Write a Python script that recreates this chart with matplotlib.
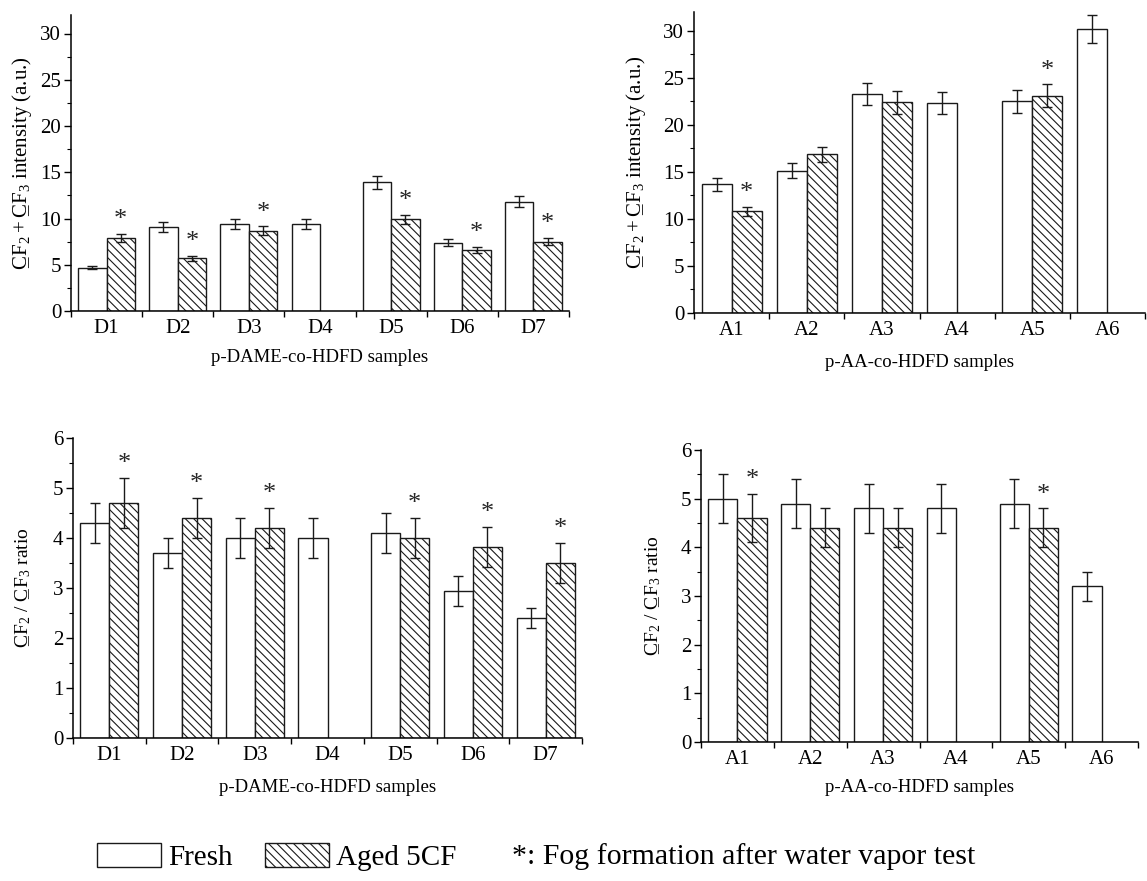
import numpy as np
import matplotlib
matplotlib.use('Agg')
import matplotlib.pyplot as plt
from matplotlib.patches import Patch
from matplotlib.ticker import MultipleLocator, FixedLocator

plt.rcParams['font.family'] = ['Liberation Serif', 'DejaVu Serif']
plt.rcParams['mathtext.fontset'] = 'custom'
plt.rcParams['mathtext.rm'] = 'Liberation Serif'
plt.rcParams['mathtext.it'] = 'Liberation Serif:italic'
plt.rcParams['hatch.linewidth'] = 0.8

nan = np.nan

d_labels = ['D1', 'D2', 'D3', 'D4', 'D5', 'D6', 'D7']
a_labels = ['A1', 'A2', 'A3', 'A4', 'A5', 'A6']

# CF2 + CF3 intensity (a.u.)
d_int_fresh = [4.7, 9.1, 9.4, 9.4, 13.9, 7.4, 11.8]
d_int_fresh_err = [0.2, 0.55, 0.55, 0.55, 0.7, 0.35, 0.6]
d_int_aged = [7.9, 5.7, 8.7, nan, 9.9, 6.6, 7.5]
d_int_aged_err = [0.4, 0.3, 0.45, nan, 0.5, 0.3, 0.4]
d_int_fog = [1, 1, 1, 0, 1, 1, 1]

a_int_fresh = [13.7, 15.1, 23.3, 22.3, 22.5, 30.2]
a_int_fresh_err = [0.7, 0.8, 1.15, 1.15, 1.2, 1.5]
a_int_aged = [10.8, 16.9, 22.4, nan, 23.1, nan]
a_int_aged_err = [0.5, 0.8, 1.2, nan, 1.2, nan]
a_int_fog = [1, 0, 0, 0, 1, 0]

# CF2 / CF3 ratio
d_rat_fresh = [4.3, 3.7, 4.0, 4.0, 4.1, 2.95, 2.4]
d_rat_fresh_err = [0.4, 0.3, 0.4, 0.4, 0.4, 0.3, 0.2]
d_rat_aged = [4.7, 4.4, 4.2, nan, 4.0, 3.82, 3.5]
d_rat_aged_err = [0.5, 0.4, 0.4, nan, 0.4, 0.4, 0.4]
d_rat_fog = [1, 1, 1, 0, 1, 1, 1]

a_rat_fresh = [5.0, 4.9, 4.8, 4.8, 4.9, 3.2]
a_rat_fresh_err = [0.5, 0.5, 0.5, 0.5, 0.5, 0.3]
a_rat_aged = [4.6, 4.4, 4.4, nan, 4.4, nan]
a_rat_aged_err = [0.5, 0.4, 0.4, nan, 0.4, nan]
a_rat_fog = [1, 0, 0, 0, 1, 0]

HATCH = '\\\\\\\\'
W, H = 1147, 881

fig = plt.figure(figsize=(W/100, H/100), dpi=100)

# underlined C (mathtext has no \underline): C, step back, underscore, step on
UC = r'\mathrm{C}\hspace{-0.75}\_\hspace{0.11}'
lab_int = '$' + UC + r'\mathrm{F}_2+' + UC + r'\mathrm{F}_3$ intensity (a.u.)'
lab_rat = '$' + UC + r'\mathrm{F}_2\ /\ ' + UC + r'\mathrm{F}_3$ ratio'


def panel(px, labels, fresh, fresh_err, aged, aged_err, fog, ytop, ystep,
          ylabel, ylab_size, xlabel, ylab_x, xlab_y):
    x0, x1, ytop_px, ybot_px = px
    ax = fig.add_axes([x0/W, 1 - ybot_px/H, (x1 - x0)/W, (ybot_px - ytop_px)/H])
    n = len(labels)
    x = np.arange(1, n + 1)
    fresh = np.array(fresh, float)
    aged = np.array(aged, float)
    fresh_err = np.array(fresh_err, float)
    aged_err = np.array(aged_err, float)
    w = 0.4
    ax.bar(x - w/2, fresh, w, color='white', edgecolor='0.1', linewidth=1.0, zorder=2)
    ok = ~np.isnan(aged)
    ax.bar(x[ok] + w/2, aged[ok], w, color='white', edgecolor='0.1', linewidth=1.0,
           hatch=HATCH, zorder=2)
    ax.errorbar(x - w/2, fresh, yerr=fresh_err, fmt='none', ecolor='0.1',
                elinewidth=1.0, capsize=3.5, capthick=1.0, zorder=3)
    ax.errorbar(x[ok] + w/2, aged[ok], yerr=aged_err[ok], fmt='none', ecolor='0.1',
                elinewidth=1.0, capsize=3.5, capthick=1.0, zorder=3)
    for i in range(n):
        if fog[i]:
            ax.annotate('*', xy=(x[i] + w/2, aged[i] + aged_err[i]), xytext=(0, 2),
                        textcoords='offset points', ha='center', va='bottom',
                        fontsize=19, color='0.15')
    ax.set_xlim(0.5, n + 0.5)
    ax.set_ylim(0, ytop)
    ax.xaxis.set_major_locator(FixedLocator(np.arange(0.5, n + 1, 1.0)))
    ax.xaxis.set_minor_locator(FixedLocator(x))
    ax.set_xticklabels([], minor=False)
    ax.set_xticklabels(labels, minor=True)
    ax.tick_params(axis='x', which='major', direction='out', length=4, width=1)
    ax.tick_params(axis='x', which='minor', length=0, pad=6, labelsize=15)
    ax.yaxis.set_major_locator(MultipleLocator(ystep))
    ax.yaxis.set_minor_locator(MultipleLocator(ystep/2))
    ax.tick_params(axis='y', which='major', direction='out', length=5, width=1,
                   labelsize=15, pad=2)
    ax.tick_params(axis='y', which='minor', direction='out', length=3, width=0.8)
    for s in ['top', 'right']:
        ax.spines[s].set_visible(False)
    for s in ['left', 'bottom']:
        ax.spines[s].set_linewidth(1.1)
    ax.set_ylabel(ylabel, fontsize=ylab_size)
    ax.yaxis.set_label_coords((ylab_x - x0)/(x1 - x0), 0.5)
    ax.set_xlabel(xlabel, fontsize=13.5)
    ax.xaxis.set_label_coords(0.5, -(xlab_y - ybot_px)/(ybot_px - ytop_px))
    return ax


panel((71, 569, 15, 311), d_labels, d_int_fresh, d_int_fresh_err, d_int_aged,
      d_int_aged_err, d_int_fog, 32, 5, lab_int, 15, 'p-DAME-co-HDFD samples', 34, 349)
panel((694, 1145, 12, 313), a_labels, a_int_fresh, a_int_fresh_err, a_int_aged,
      a_int_aged_err, a_int_fog, 32, 5, lab_int, 15, 'p-AA-co-HDFD samples', 648, 354)
panel((73, 582, 438, 738), d_labels, d_rat_fresh, d_rat_fresh_err, d_rat_aged,
      d_rat_aged_err, d_rat_fog, 6, 1, lab_rat, 14, 'p-DAME-co-HDFD samples', 33, 779)
panel((701, 1138, 450, 742), a_labels, a_rat_fresh, a_rat_fresh_err, a_rat_aged,
      a_rat_aged_err, a_rat_fog, 6, 1, lab_rat, 14, 'p-AA-co-HDFD samples', 663, 779)

handles = [Patch(facecolor='white', edgecolor='0.1', linewidth=1.0),
           Patch(facecolor='white', edgecolor='0.1', linewidth=1.0, hatch=HATCH)]
fig.legend(handles, ['Fresh', 'Aged 5CF'], ncol=2, frameon=False, fontsize=21,
           handlelength=2.2, handleheight=0.9, handletextpad=0.25, columnspacing=1.1,
           loc='center left', bbox_to_anchor=(85/W, 1 - 857/H), borderaxespad=0)
fig.text(512/W, 1 - 857/H, '*: Fog formation after water vapor test', fontsize=21.5,
         ha='left', va='center')

fig.savefig('out.png', dpi=100)
